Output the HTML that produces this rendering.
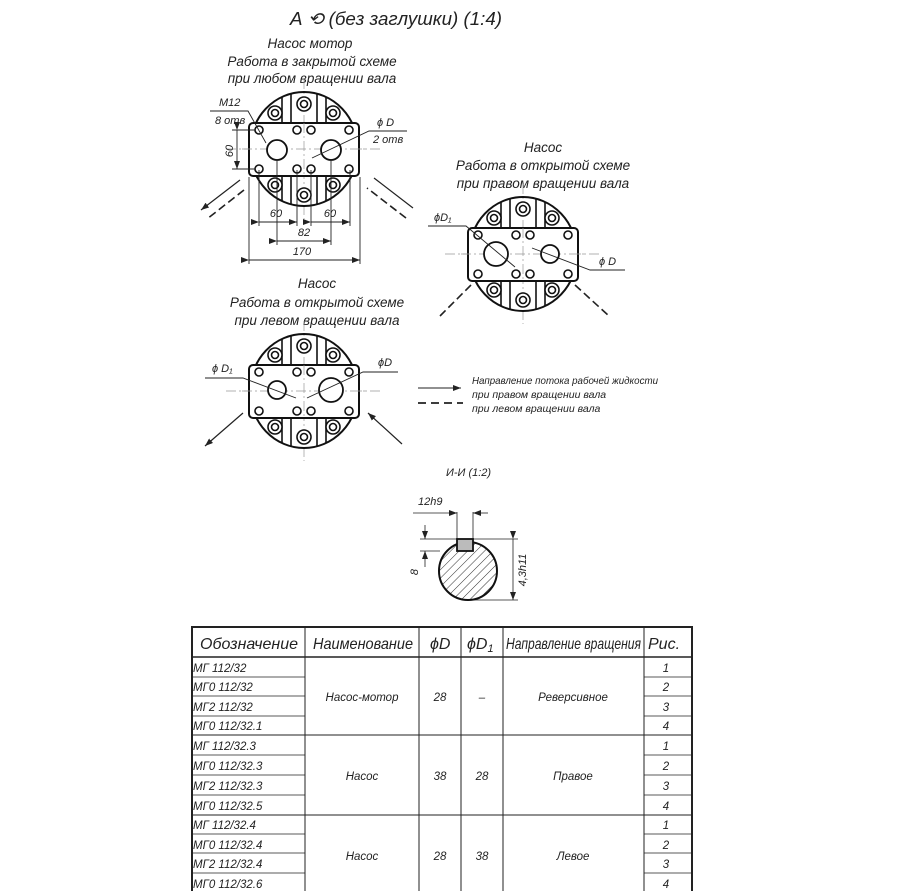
<!DOCTYPE html>
<html><head><meta charset="utf-8"><style>
html,body{margin:0;padding:0;background:#fff;}
svg{display:block;}
text{font-family:"Liberation Sans",sans-serif;font-style:italic;fill:#222;}
</style></head><body>
<svg width="897" height="891" viewBox="0 0 897 891" xmlns="http://www.w3.org/2000/svg">
<defs>
<marker id="ah" markerWidth="8" markerHeight="6" refX="8" refY="3" orient="auto" markerUnits="userSpaceOnUse"><path d="M0,0 L8,3 L0,6 z" fill="#222"/></marker>
<pattern id="hatch" width="6" height="6" patternUnits="userSpaceOnUse" patternTransform="rotate(45)"><line x1="0" y1="0" x2="0" y2="6" stroke="#333" stroke-width="1"/></pattern>
<g id="fl">
<line x1="-78" y1="0" x2="78" y2="0" stroke="#999" stroke-width="0.7" stroke-dasharray="10,3,2,3"/>
<line x1="0" y1="-70" x2="0" y2="70" stroke="#999" stroke-width="0.7" stroke-dasharray="10,3,2,3"/>
<ellipse cx="0" cy="0" rx="54" ry="57" fill="none" stroke="#111" stroke-width="2"/>
<g stroke="#111" stroke-width="1.6">
<line x1="-13" y1="-26" x2="-13" y2="-55"/><line x1="13" y1="-26" x2="13" y2="-55"/>
<line x1="-22" y1="-26" x2="-22" y2="-52"/><line x1="22" y1="-26" x2="22" y2="-52"/>
<line x1="-13" y1="27" x2="-13" y2="55"/><line x1="13" y1="27" x2="13" y2="55"/>
<line x1="-22" y1="27" x2="-22" y2="52"/><line x1="22" y1="27" x2="22" y2="52"/>
</g>
<rect x="-55" y="-26" width="110" height="53" rx="4" fill="#fff" stroke="#111" stroke-width="2"/>
<line x1="-62" y1="0" x2="62" y2="0" stroke="#999" stroke-width="0.7" stroke-dasharray="10,3,2,3"/>
<line x1="0" y1="-26" x2="0" y2="27" stroke="#999" stroke-width="0.7" stroke-dasharray="10,3,2,3"/>
<g fill="#fff" stroke="#111" stroke-width="1.6">
<circle cx="0" cy="-45" r="7"/><circle cx="0" cy="-45" r="3.5"/>
<circle cx="-29" cy="-36" r="7"/><circle cx="-29" cy="-36" r="3.5"/>
<circle cx="29" cy="-36" r="7"/><circle cx="29" cy="-36" r="3.5"/>
<circle cx="0" cy="46" r="7"/><circle cx="0" cy="46" r="3.5"/>
<circle cx="-29" cy="36" r="7"/><circle cx="-29" cy="36" r="3.5"/>
<circle cx="29" cy="36" r="7"/><circle cx="29" cy="36" r="3.5"/>
<circle cx="-45" cy="-19" r="4"/><circle cx="-7" cy="-19" r="4"/><circle cx="7" cy="-19" r="4"/><circle cx="45" cy="-19" r="4"/>
<circle cx="-45" cy="20" r="4"/><circle cx="-7" cy="20" r="4"/><circle cx="7" cy="20" r="4"/><circle cx="45" cy="20" r="4"/>
</g>
</g>
</defs>

<text x="290" y="25" font-size="18" textLength="212" lengthAdjust="spacingAndGlyphs">А ⟲ (без заглушки) (1:4)</text>

<g font-size="13.5" text-anchor="middle">
<text x="310" y="48">Насос мотор</text>
<text x="312" y="66">Работа в закрытой схеме</text>
<text x="312" y="83">при любом вращении вала</text>
</g>
<use href="#fl" x="304" y="149"/>
<circle cx="277" cy="150" r="10" fill="#fff" stroke="#111" stroke-width="1.8"/>
<circle cx="331" cy="150" r="10" fill="#fff" stroke="#111" stroke-width="1.8"/>
<g stroke="#222" stroke-width="0.9" fill="none">
<polyline points="210,111 248,111 266,143"/>
<polyline points="407,131 369,131 312,158"/>
<line x1="232" y1="130" x2="255" y2="130"/><line x1="232" y1="169" x2="255" y2="169"/>
<line x1="237" y1="130" x2="237" y2="169" marker-start="url(#ah)" marker-end="url(#ah)"/>
<line x1="259" y1="170" x2="259" y2="226"/><line x1="277" y1="160" x2="277" y2="245"/>
<line x1="297" y1="170" x2="297" y2="226"/><line x1="311" y1="170" x2="311" y2="226"/>
<line x1="331" y1="160" x2="331" y2="245"/><line x1="350" y1="170" x2="350" y2="226"/>
<line x1="249" y1="177" x2="249" y2="264"/><line x1="360" y1="177" x2="360" y2="264"/>
<line x1="259" y1="222" x2="297" y2="222" marker-start="url(#ah)" marker-end="url(#ah)"/>
<line x1="311" y1="222" x2="350" y2="222" marker-start="url(#ah)" marker-end="url(#ah)"/>
<line x1="277" y1="241" x2="331" y2="241" marker-start="url(#ah)" marker-end="url(#ah)"/>
<line x1="249" y1="260" x2="360" y2="260" marker-start="url(#ah)" marker-end="url(#ah)"/>
</g>
<g font-size="11">
<text x="219" y="106">M12</text>
<text x="215" y="124">8 отв</text>
<text x="377" y="126">ϕ D</text>
<text x="373" y="143">2 отв</text>
<text x="276" y="217" text-anchor="middle">60</text>
<text x="330" y="217" text-anchor="middle">60</text>
<text x="304" y="236" text-anchor="middle">82</text>
<text x="302" y="255" text-anchor="middle">170</text>
<text transform="translate(233,151) rotate(-90)" text-anchor="middle">60</text>
</g>
<g stroke="#222" stroke-width="1.2" fill="none">
<line x1="240" y1="180" x2="201" y2="210" marker-end="url(#ah)"/>
<line x1="244" y1="190" x2="207" y2="219" stroke-dasharray="8,4" stroke-width="1.6"/>
<line x1="413" y1="208" x2="374" y2="178"/>
<line x1="406" y1="218" x2="367" y2="188" stroke-dasharray="8,4" stroke-width="1.6"/>
</g>

<g font-size="13.5" text-anchor="middle">
<text x="543" y="152">Насос</text>
<text x="543" y="170">Работа в открытой схеме</text>
<text x="543" y="188">при правом вращении вала</text>
</g>
<use href="#fl" x="523" y="254"/>
<circle cx="496" cy="254" r="12" fill="#fff" stroke="#111" stroke-width="1.8"/>
<circle cx="550" cy="254" r="9" fill="#fff" stroke="#111" stroke-width="1.8"/>
<g stroke="#222" stroke-width="0.9" fill="none">
<polyline points="428,226 466,226 515,267"/>
<polyline points="625,270 590,270 532,248"/>
</g>
<g font-size="11"><text x="434" y="221">ϕD₁</text><text x="599" y="265">ϕ D</text></g>
<g stroke="#222" stroke-width="1.6" fill="none" stroke-dasharray="8,4">
<line x1="471" y1="285" x2="440" y2="316"/>
<line x1="575" y1="285" x2="609" y2="316"/>
</g>

<g font-size="13.5" text-anchor="middle">
<text x="317" y="288">Насос</text>
<text x="317" y="307">Работа в открытой схеме</text>
<text x="317" y="325">при левом вращении вала</text>
</g>
<use href="#fl" x="304" y="391"/>
<circle cx="277" cy="390" r="9" fill="#fff" stroke="#111" stroke-width="1.8"/>
<circle cx="331" cy="390" r="12" fill="#fff" stroke="#111" stroke-width="1.8"/>
<g stroke="#222" stroke-width="0.9" fill="none">
<polyline points="205,378 243,378 296,398"/>
<polyline points="398,372 363,372 307,398"/>
</g>
<g font-size="11"><text x="212" y="372">ϕ D₁</text><text x="378" y="366">ϕD</text></g>
<g stroke="#222" stroke-width="1.2" fill="none">
<line x1="243" y1="413" x2="205" y2="446" marker-end="url(#ah)"/>
<line x1="402" y1="444" x2="368" y2="413" marker-end="url(#ah)"/>
</g>

<line x1="418" y1="388" x2="461" y2="388" stroke="#222" stroke-width="1" marker-end="url(#ah)"/>
<line x1="418" y1="403" x2="463" y2="403" stroke="#222" stroke-width="1.8" stroke-dasharray="8,5"/>
<g font-size="10.5">
<text x="472" y="384" textLength="186" lengthAdjust="spacingAndGlyphs">Направление потока рабочей жидкости</text>
<text x="472" y="398">при    правом вращении вала</text>
<text x="472" y="412">при    левом вращении вала</text>
</g>

<text x="446" y="476" font-size="11">И-И (1:2)</text>
<g stroke="#222" stroke-width="0.8" fill="none">
<line x1="457" y1="512" x2="457" y2="540"/><line x1="473" y1="512" x2="473" y2="540"/>
<line x1="413" y1="513" x2="457" y2="513" marker-end="url(#ah)"/>
<line x1="488" y1="513" x2="473" y2="513" marker-end="url(#ah)"/>
<line x1="420" y1="539" x2="457" y2="539"/>
<line x1="420" y1="551" x2="440" y2="551"/>
<line x1="425" y1="525" x2="425" y2="539" marker-end="url(#ah)"/>
<line x1="425" y1="567" x2="425" y2="551" marker-end="url(#ah)"/>
<line x1="473" y1="539" x2="518" y2="539"/>
<line x1="468" y1="600" x2="518" y2="600"/>
<line x1="513" y1="539" x2="513" y2="600" marker-start="url(#ah)" marker-end="url(#ah)"/>
</g>
<circle cx="468" cy="571" r="29" fill="url(#hatch)" stroke="#111" stroke-width="2"/>
<rect x="457" y="539" width="16" height="12" fill="#bbb" stroke="#111" stroke-width="1.8"/>
<g font-size="11">
<text x="418" y="505">12h9</text>
<text transform="translate(418,572) rotate(-90)" text-anchor="middle">8</text>
<text transform="translate(526,570) rotate(-90)" text-anchor="middle">4,3h11</text>
</g>

<g stroke="#222" fill="none">
<rect x="192" y="627" width="500" height="270" stroke-width="2"/>
<line x1="192" y1="657" x2="692" y2="657" stroke-width="1.5"/>
<line x1="305" y1="627" x2="305" y2="891" stroke-width="1"/>
<line x1="419" y1="627" x2="419" y2="891" stroke-width="1"/>
<line x1="461" y1="627" x2="461" y2="891" stroke-width="1"/>
<line x1="503" y1="627" x2="503" y2="891" stroke-width="1"/>
<line x1="644" y1="627" x2="644" y2="891" stroke-width="1"/>
<line x1="192" y1="735" x2="692" y2="735" stroke-width="1"/>
<line x1="192" y1="815" x2="692" y2="815" stroke-width="1"/>
<g stroke-width="0.8">
<line x1="192" y1="677" x2="305" y2="677"/><line x1="644" y1="677" x2="692" y2="677"/>
<line x1="192" y1="696" x2="305" y2="696"/><line x1="644" y1="696" x2="692" y2="696"/>
<line x1="192" y1="716" x2="305" y2="716"/><line x1="644" y1="716" x2="692" y2="716"/>
<line x1="192" y1="755" x2="305" y2="755"/><line x1="644" y1="755" x2="692" y2="755"/>
<line x1="192" y1="775" x2="305" y2="775"/><line x1="644" y1="775" x2="692" y2="775"/>
<line x1="192" y1="795" x2="305" y2="795"/><line x1="644" y1="795" x2="692" y2="795"/>
<line x1="192" y1="834" x2="305" y2="834"/><line x1="644" y1="834" x2="692" y2="834"/>
<line x1="192" y1="853" x2="305" y2="853"/><line x1="644" y1="853" x2="692" y2="853"/>
<line x1="192" y1="873" x2="305" y2="873"/><line x1="644" y1="873" x2="692" y2="873"/>
</g>
</g>
<g font-size="16">
<text x="200" y="649" textLength="98" lengthAdjust="spacingAndGlyphs">Обозначение</text>
<text x="313" y="649" textLength="100" lengthAdjust="spacingAndGlyphs">Наименование</text>
<text x="430" y="649">ϕD</text>
<text x="467" y="649">ϕD<tspan font-size="11" dy="3">1</tspan></text>
<text x="506" y="649" textLength="135" lengthAdjust="spacingAndGlyphs">Направление вращения</text>
<text x="648" y="649">Рис.</text>
</g>
<g font-size="11.5">
<text x="193" y="672">МГ 112/32</text>
<text x="193" y="691">МГ0  112/32</text>
<text x="193" y="711">МГ2 112/32</text>
<text x="193" y="730">МГ0 112/32.1</text>
<text x="193" y="750">МГ 112/32.3</text>
<text x="193" y="770">МГ0  112/32.3</text>
<text x="193" y="790">МГ2 112/32.3</text>
<text x="193" y="810">МГ0 112/32.5</text>
<text x="193" y="829">МГ 112/32.4</text>
<text x="193" y="849">МГ0  112/32.4</text>
<text x="193" y="868">МГ2  112/32.4</text>
<text x="193" y="888">МГ0  112/32.6</text>
</g>
<g font-size="11.5" text-anchor="middle">
<text x="362" y="701">Насос-мотор</text>
<text x="440" y="701">28</text>
<text x="482" y="701">–</text>
<text x="573" y="701">Реверсивное</text>
<text x="362" y="780">Насос</text>
<text x="440" y="780">38</text>
<text x="482" y="780">28</text>
<text x="573" y="780">Правое</text>
<text x="362" y="860">Насос</text>
<text x="440" y="860">28</text>
<text x="482" y="860">38</text>
<text x="573" y="860">Левое</text>
<text x="666" y="672">1</text><text x="666" y="691">2</text><text x="666" y="711">3</text><text x="666" y="730">4</text>
<text x="666" y="750">1</text><text x="666" y="770">2</text><text x="666" y="790">3</text><text x="666" y="810">4</text>
<text x="666" y="829">1</text><text x="666" y="849">2</text><text x="666" y="868">3</text><text x="666" y="888">4</text>
</g>
</svg>
</body></html>
